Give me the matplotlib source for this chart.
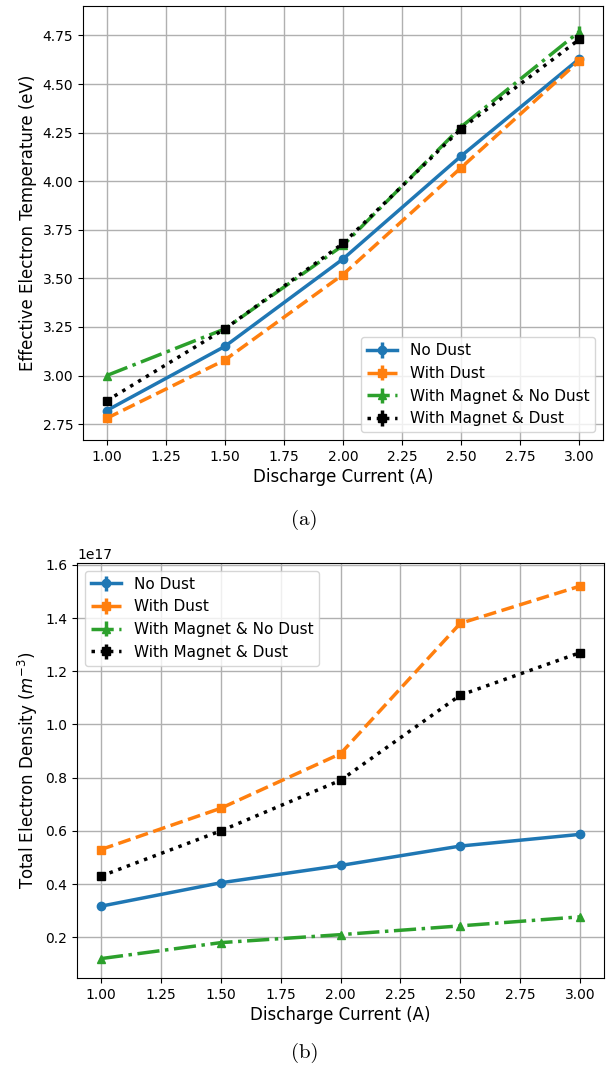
import matplotlib.pyplot as plt
import numpy as np

current = [1.0, 1.5, 2.0, 2.5, 3.0]
labels = ['No Dust', 'With Dust', 'With Magnet & No Dust', 'With Magnet & Dust']

# effective electron temperature (eV)
te_nodust = [2.82, 3.15, 3.60, 4.13, 4.63]
te_dust = [2.78, 3.08, 3.52, 4.07, 4.62]
te_mag_nodust = [3.00, 3.24, 3.67, 4.28, 4.77]
te_mag_dust = [2.87, 3.24, 3.68, 4.27, 4.73]
te_err_nodust = [0.01, 0.01, 0.01, 0.01, 0.01]
te_err_dust = [0.01, 0.01, 0.01, 0.01, 0.01]
te_err_mag_nodust = [0.01, 0.01, 0.01, 0.01, 0.03]
te_err_mag_dust = [0.01, 0.01, 0.01, 0.01, 0.02]

# total electron density (1e17 m^-3)
ne_nodust = [0.317, 0.405, 0.470, 0.543, 0.587]
ne_dust = [0.530, 0.685, 0.890, 1.380, 1.520]
ne_mag_nodust = [0.120, 0.180, 0.210, 0.243, 0.277]
ne_mag_dust = [0.430, 0.600, 0.790, 1.110, 1.270]
ne_err_nodust = [0.003, 0.003, 0.003, 0.003, 0.003]
ne_err_dust = [0.005, 0.008, 0.006, 0.012, 0.016]
ne_err_mag_nodust = [0.002, 0.002, 0.002, 0.002, 0.002]
ne_err_mag_dust = [0.004, 0.005, 0.005, 0.006, 0.006]

styles = [('tab:blue', '-', 'o'), ('tab:orange', '--', 's'),
          ('tab:green', '-.', '^'), ('black', ':', 's')]

fig = plt.figure(figsize=(6.09, 10.72), dpi=100)
ax1 = fig.add_axes([83 / 609, 1 - 440 / 1072, 520 / 609, 434 / 1072])
ax2 = fig.add_axes([77 / 609, 1 - 978 / 1072, 527 / 609, 415 / 1072])

te = [te_nodust, te_dust, te_mag_nodust, te_mag_dust]
te_err = [te_err_nodust, te_err_dust, te_err_mag_nodust, te_err_mag_dust]
ne = [ne_nodust, ne_dust, ne_mag_nodust, ne_mag_dust]
ne_err = [ne_err_nodust, ne_err_dust, ne_err_mag_nodust, ne_err_mag_dust]

for ax, ys, errs, scale in [(ax1, te, te_err, 1), (ax2, ne, ne_err, 1e17)]:
    for y, e, (c, ls, mk), lab in zip(ys, errs, styles, labels):
        ax.errorbar(current, np.array(y) * scale, yerr=np.array(e) * scale,
                    color=c, linestyle=ls, marker=mk, markersize=6,
                    linewidth=2.5, elinewidth=2.5, label=lab)
    ax.grid(True, color='#b0b0b0', linewidth=1)
    ax.set_xticks(np.arange(1.0, 3.01, 0.25))
    ax.xaxis.set_major_formatter(plt.FormatStrFormatter('%.2f'))
    ax.set_xlabel('Discharge Current (A)', fontsize=12, labelpad=3)
    ax.tick_params(labelsize=10)

ax1.yaxis.set_major_formatter(plt.FormatStrFormatter('%.2f'))
ax1.set_ylabel('Effective Electron Temperature (eV)', fontsize=12)
ax1.legend(loc='lower right', fontsize=11)

ax2.set_ylabel(r'Total Electron Density ($m^{-3}$)', fontsize=12)
ax2.legend(loc='upper left', fontsize=11)

fig.text(0.5, 1 - 520 / 1072, '(a)', family='cmr10', ha='center', va='center', fontsize=15)
fig.text(0.5, 1 - 1053 / 1072, '(b)', family='cmr10', ha='center', va='center', fontsize=15)

fig.savefig('out.png', dpi=100)
